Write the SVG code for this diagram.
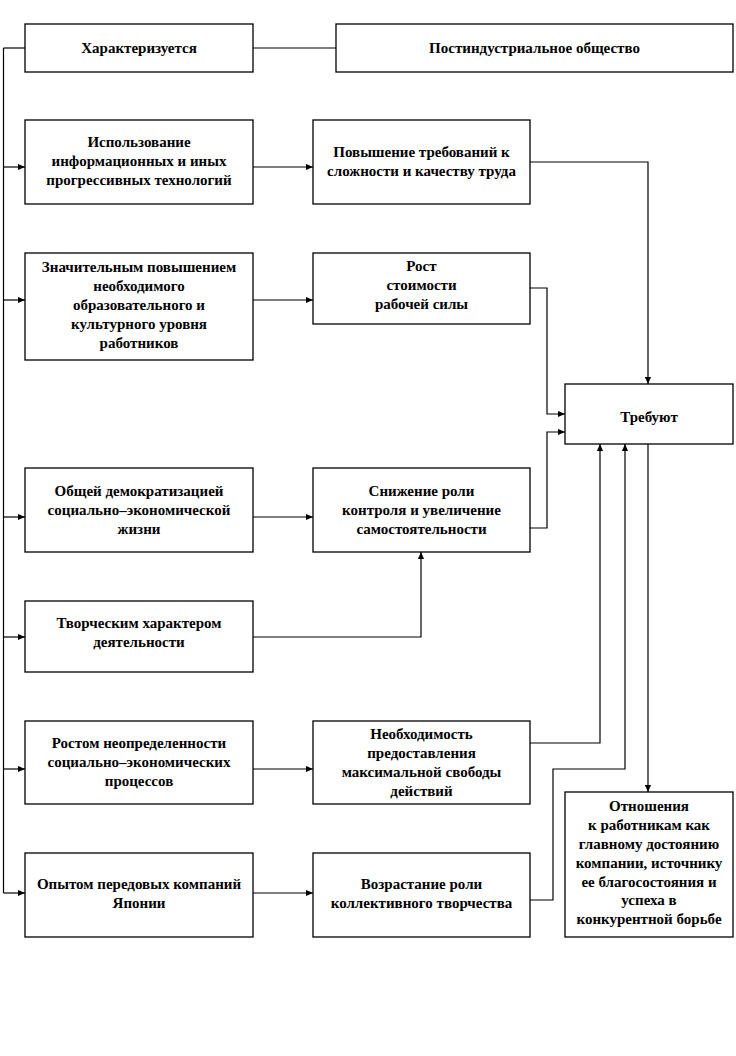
<svg xmlns="http://www.w3.org/2000/svg" width="736" height="1056" viewBox="0 0 736 1056">
<style>
.box{fill:#fff;stroke:#000;stroke-width:1.3}
.t{font-family:"Liberation Serif","Times New Roman",serif;font-weight:bold;font-size:15px;text-anchor:middle;fill:#000}
.c{fill:none;stroke:#000;stroke-width:1.2}
</style>
<defs>
<marker id="ah" viewBox="0 0 8 8" refX="8" refY="4" markerWidth="7" markerHeight="7" markerUnits="userSpaceOnUse" orient="auto">
<path d="M0,0.5 L8,4 L0,7.5 z" fill="#000"/>
</marker>
</defs>
<rect width="736" height="1056" fill="#fff"/>
<g id="connectors">
<path class="c" d="M3.5,48 V893"/>
<path class="c" d="M3.5,48 H25"/>
<path class="c" d="M253,48 H336"/>
<path class="c" d="M3.5,167 H25" marker-end="url(#ah)"/>
<path class="c" d="M3.5,300 H25" marker-end="url(#ah)"/>
<path class="c" d="M3.5,517 H25" marker-end="url(#ah)"/>
<path class="c" d="M3.5,637 H25" marker-end="url(#ah)"/>
<path class="c" d="M3.5,769 H25" marker-end="url(#ah)"/>
<path class="c" d="M3.5,893 H25" marker-end="url(#ah)"/>
<path class="c" d="M253,167 H313" marker-end="url(#ah)"/>
<path class="c" d="M253,300 H313" marker-end="url(#ah)"/>
<path class="c" d="M253,517 H313" marker-end="url(#ah)"/>
<path class="c" d="M253,769 H313" marker-end="url(#ah)"/>
<path class="c" d="M253,893 H313" marker-end="url(#ah)"/>
<path class="c" d="M253,637 H421 V552" marker-end="url(#ah)"/>
<path class="c" d="M530,162 H648 V384" marker-end="url(#ah)"/>
<path class="c" d="M530,288 H547 V414 H565" marker-end="url(#ah)"/>
<path class="c" d="M530,528 H547 V432 H565" marker-end="url(#ah)"/>
<path class="c" d="M530,743 H600 V444" marker-end="url(#ah)"/>
<path class="c" d="M530,900 H553 V769 H625 V444" marker-end="url(#ah)"/>
<path class="c" d="M648,444 V792" marker-end="url(#ah)"/>
</g>
<g id="n1"><rect class="box" x="25" y="24" width="228" height="48"/><text class="t" x="139" y="53">Характеризуется</text></g>
<g id="n2"><rect class="box" x="336" y="24" width="397" height="48"/><text class="t" x="534.5" y="53">Постиндустриальное общество</text></g>
<g id="n3"><rect class="box" x="25" y="120" width="228" height="84"/><text class="t" x="139" y="147">Использование</text><text class="t" x="139" y="166">информационных и иных</text><text class="t" x="139" y="185">прогрессивных технологий</text></g>
<g id="n4"><rect class="box" x="313" y="120" width="217" height="84"/><text class="t" x="421.5" y="157">Повышение требований к</text><text class="t" x="421.5" y="176">сложности и качеству труда</text></g>
<g id="n5"><rect class="box" x="25" y="253" width="228" height="107"/><text class="t" x="139" y="272">Значительным повышением</text><text class="t" x="139" y="291">необходимого</text><text class="t" x="139" y="310">образовательного и</text><text class="t" x="139" y="329">культурного  уровня</text><text class="t" x="139" y="348">работников</text></g>
<g id="n6"><rect class="box" x="313" y="253" width="217" height="71"/><text class="t" x="421.5" y="271">Рост</text><text class="t" x="421.5" y="290">стоимости</text><text class="t" x="421.5" y="309">рабочей силы</text></g>
<g id="n7"><rect class="box" x="565" y="384" width="168" height="60"/><text class="t" x="649" y="422">Требуют</text></g>
<g id="n8"><rect class="box" x="25" y="468" width="228" height="84"/><text class="t" x="139" y="496">Общей демократизацией</text><text class="t" x="139" y="515">социально–экономической</text><text class="t" x="139" y="534">жизни</text></g>
<g id="n9"><rect class="box" x="313" y="468" width="217" height="84"/><text class="t" x="421.5" y="496">Снижение роли</text><text class="t" x="421.5" y="515">контроля и увеличение</text><text class="t" x="421.5" y="534">самостоятельности</text></g>
<g id="n10"><rect class="box" x="25" y="601" width="228" height="71"/><text class="t" x="139" y="628">Творческим характером</text><text class="t" x="139" y="647">деятельности</text></g>
<g id="n11"><rect class="box" x="25" y="721" width="228" height="83"/><text class="t" x="139" y="748">Ростом неопределенности</text><text class="t" x="139" y="767">социально–экономических</text><text class="t" x="139" y="786">процессов</text></g>
<g id="n12"><rect class="box" x="313" y="721" width="217" height="83"/><text class="t" x="421.5" y="739">Необходимость</text><text class="t" x="421.5" y="758">предоставления</text><text class="t" x="421.5" y="777">максимальной свободы</text><text class="t" x="421.5" y="796">действий</text></g>
<g id="n13"><rect class="box" x="25" y="853" width="228" height="84"/><text class="t" x="139" y="889">Опытом передовых компаний</text><text class="t" x="139" y="908">Японии</text></g>
<g id="n14"><rect class="box" x="313" y="853" width="217" height="84"/><text class="t" x="421.5" y="889">Возрастание роли</text><text class="t" x="421.5" y="908">коллективного творчества</text></g>
<g id="n15"><rect class="box" x="565" y="792" width="168" height="145"/><text class="t" x="649" y="811">Отношения</text><text class="t" x="649" y="830">к работникам как</text><text class="t" x="649" y="849">главному достоянию</text><text class="t" x="649" y="868">компании, источнику</text><text class="t" x="649" y="887">ее благосостояния и</text><text class="t" x="649" y="905">успеха в</text><text class="t" x="649" y="924">конкурентной борьбе</text></g>
</svg>
